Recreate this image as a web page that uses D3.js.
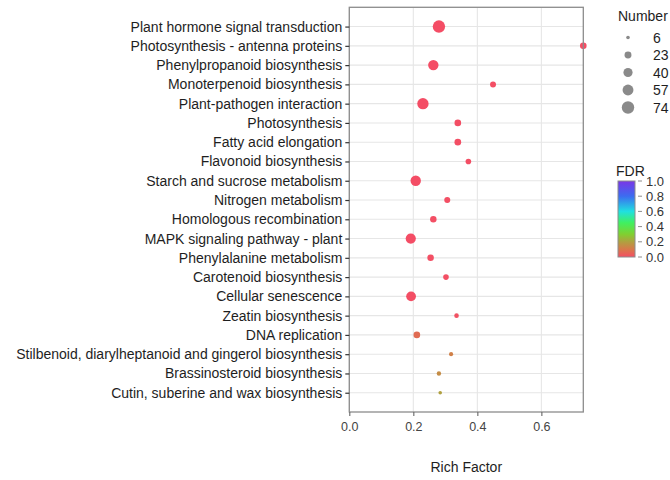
<!DOCTYPE html>
<html><head><meta charset="utf-8">
<script src="https://cdn.jsdelivr.net/npm/d3@7"></script>
<style>body{margin:0;background:#fff}svg{display:block;font-family:"Liberation Sans",Arial,sans-serif}</style>
</head><body><svg id="c" width="670" height="480"></svg>
<script>
const pathways = ["Plant hormone signal transduction","Photosynthesis - antenna proteins","Phenylpropanoid biosynthesis","Monoterpenoid biosynthesis","Plant-pathogen interaction","Photosynthesis","Fatty acid elongation","Flavonoid biosynthesis","Starch and sucrose metabolism","Nitrogen metabolism","Homologous recombination","MAPK signaling pathway - plant","Phenylalanine metabolism","Carotenoid biosynthesis","Cellular senescence","Zeatin biosynthesis","DNA replication","Stilbenoid, diarylheptanoid and gingerol biosynthesis","Brassinosteroid biosynthesis","Cutin, suberine and wax biosynthesis"];
const richFactor = [0.280,0.731,0.2625,0.449,0.230,0.339,0.339,0.372,0.2075,0.306,0.2625,0.192,0.254,0.302,0.193,0.335,0.211,0.318,0.280,0.284];
const geneNumber = [74,21,52,17,62,21,21,15,52,17,20,50,20,15,46,10,21,8,9,6];
const fdr = [0.001,0.002,0.001,0.003,0.001,0.002,0.002,0.003,0.001,0.004,0.004,0.001,0.004,0.005,0.002,0.01,0.07,0.12,0.15,0.2];
const xTicks = [0.0,0.2,0.4,0.6];
const sizeBreaks = [6,23,40,57,74];
const fdrTicks = [0.0,0.2,0.4,0.6,0.8,1.0];
const fdrStops = [0,0.1,0.2,0.3,0.45,0.6,0.8,1];
const fdrColors = ["#f44d65","#d8784a","#b0a040","#80d030","#40f060","#20e0e0","#3c6cf0","#7a36e6"];

const svg = d3.select("#c");
const L=349.3, R=583.3, T=7.3, B=412;
const x = d3.scaleLinear().domain([0, d3.max(richFactor)]).range([L,R]);
const y = d3.scalePoint().domain(pathways).range([T,B]).padding(1);
const r = d3.scaleLinear().domain([Math.sqrt(d3.min(sizeBreaks)),Math.sqrt(d3.max(sizeBreaks))]).range([1.8,6.2]);
const rad = n => r(Math.sqrt(n));
const col = d3.scaleLinear().domain(fdrStops).range(fdrColors).interpolate(d3.interpolateRgb);

// grid
const g = svg.append("g");
g.selectAll("line.gx").data(xTicks).join("line").attr("x1",d=>x(d)).attr("x2",d=>x(d)).attr("y1",T).attr("y2",B).attr("stroke","#e6e6e6").attr("stroke-width",1.1);
g.selectAll("line.gy").data(pathways).join("line").attr("x1",L).attr("x2",R).attr("y1",d=>y(d)).attr("y2",d=>y(d)).attr("stroke","#e6e6e6").attr("stroke-width",1.1);

// points
const data = pathways.map((p,i)=>({p,rf:richFactor[i],n:geneNumber[i],f:fdr[i]}));
svg.append("g").selectAll("circle").data(data).join("circle")
  .attr("cx",d=>x(d.rf)).attr("cy",d=>y(d.p)).attr("r",d=>rad(d.n)).attr("fill",d=>col(d.f));

// border
svg.append("rect").attr("x",L).attr("y",T).attr("width",R-L).attr("height",B-T).attr("fill","none").attr("stroke","#8c8c8c").attr("stroke-width",1.3);

// y axis
const ya = svg.append("g").attr("transform",`translate(${L},0)`).call(d3.axisLeft(y).tickSize(4).tickPadding(3));
ya.select(".domain").remove();
ya.selectAll(".tick line").attr("stroke","#333").attr("stroke-width",1.2);
ya.selectAll("text").attr("font-size",14).attr("fill","#1e1e1e").attr("font-family","Liberation Sans, Arial, sans-serif");

// x axis
const xa = svg.append("g").attr("transform",`translate(0,${B})`).call(d3.axisBottom(x).tickValues(xTicks).tickFormat(d3.format(".1f")).tickSize(4).tickPadding(6));
xa.select(".domain").remove();
xa.selectAll(".tick line").attr("stroke","#666").attr("stroke-width",1.1);
xa.selectAll("text").attr("font-size",12.5).attr("fill","#444").attr("font-family","Liberation Sans, Arial, sans-serif");
svg.append("text").attr("x",(L+R)/2).attr("y",472).attr("text-anchor","middle").attr("font-size",14).attr("fill","#1e1e1e").text("Rich Factor");

// size legend
svg.append("text").attr("x",618).attr("y",21).attr("font-size",14).attr("fill","#1e1e1e").text("Number");
const sl = svg.append("g").selectAll("g").data(sizeBreaks).join("g").attr("transform",(d,i)=>`translate(628,${37.5+i*17.5})`);
sl.append("circle").attr("r",d=>rad(d)).attr("fill","#8a8a8a");
sl.append("text").attr("x",25).attr("y",5).attr("font-size",14).attr("fill","#1e1e1e").text(d=>d);

// colorbar
const cbX=618, cbW=17, cbT=181, cbB=257;
const defs = svg.append("defs");
const lg = defs.append("linearGradient").attr("id","fdrg").attr("x1",0).attr("x2",0).attr("y1",1).attr("y2",0);
lg.selectAll("stop").data(fdrStops).join("stop").attr("offset",d=>d).attr("stop-color",(d,i)=>fdrColors[i]);
svg.append("text").attr("x",616).attr("y",176).attr("font-size",14).attr("fill","#1e1e1e").text("FDR");
svg.append("rect").attr("x",cbX).attr("y",cbT).attr("width",cbW).attr("height",cbB-cbT).attr("fill","url(#fdrg)").attr("stroke","#8c8c8c").attr("stroke-width",1);
const cy = d3.scaleLinear().domain([0,1]).range([cbB,cbT]);
const ct = svg.append("g").selectAll("g").data(fdrTicks).join("g").attr("transform",d=>`translate(0,${cy(d)})`);
ct.append("line").attr("x1",cbX+cbW+3).attr("x2",cbX+cbW+7).attr("stroke","#8c8c8c");
ct.append("text").attr("x",cbX+cbW+11).attr("y",4.5).attr("font-size",13).attr("fill","#333").text(d=>d3.format(".1f")(d));
</script></body></html>
